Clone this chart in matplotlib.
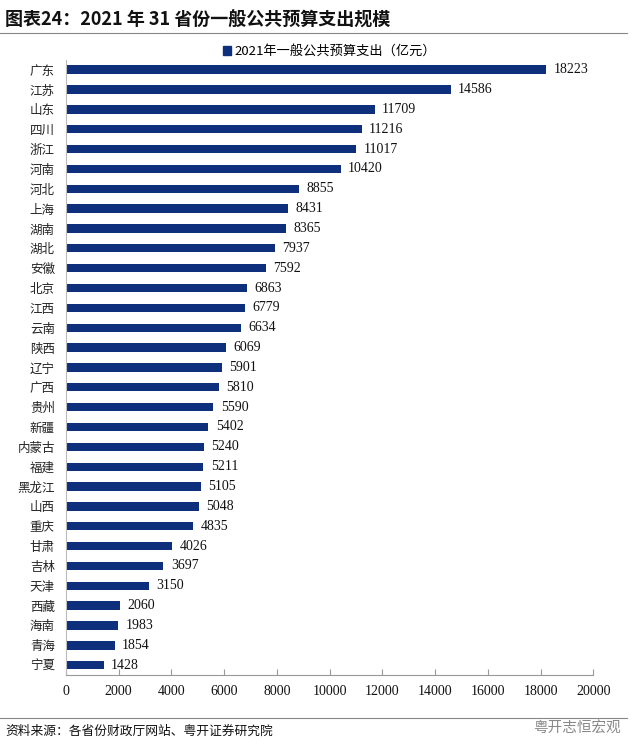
import matplotlib
matplotlib.use("Agg")
import matplotlib.pyplot as plt
from matplotlib.lines import Line2D
from matplotlib.patches import Patch

provinces = ["广东", "江苏", "山东", "四川", "浙江", "河南", "河北", "上海", "湖南", "湖北",
             "安徽", "北京", "江西", "云南", "陕西", "辽宁", "广西", "贵州", "新疆", "内蒙古",
             "福建", "黑龙江", "山西", "重庆", "甘肃", "吉林", "天津", "西藏", "海南", "青海", "宁夏"]
values = [18223, 14586, 11709, 11216, 11017, 10420, 8855, 8431, 8365, 7937,
          7592, 6863, 6779, 6634, 6069, 5901, 5810, 5590, 5402, 5240,
          5211, 5105, 5048, 4835, 4026, 3697, 3150, 2060, 1983, 1854, 1428]
xticks = [0, 2000, 4000, 6000, 8000, 10000, 12000, 14000, 16000, 18000, 20000]
series_name = "2021年一般公共预算支出（亿元）"
title = "图表24：2021 年 31 省份一般公共预算支出规模"
source = "资料来源：各省份财政厅网站、粤开证券研究院"

serif = ["Liberation Serif", "Noto Sans CJK SC"]
cjk = ["Noto Sans CJK SC", "DejaVu Sans"]
bar_color = "#0d2f7c"

fig = plt.figure(figsize=(6.4, 7.56), dpi=100)
ax = fig.add_axes([0.103, 0.107, 0.824, 0.814])

n = len(provinces)
ypos = list(range(n))[::-1]
ax.barh(ypos, values, height=0.42, color=bar_color)
for y, v in zip(ypos, values):
    ax.text(v + 280, y, str(v), va="center", ha="left", fontsize=10, family=serif, color="#111111")

ax.set_xlim(0, 20000)
ax.set_ylim(-0.5, n - 0.5)
ax.set_yticks(ypos)
ax.set_yticklabels(provinces, family=cjk, fontsize=9, color="#222222")
ax.set_xticks(xticks)
ax.set_xticklabels([str(t) for t in xticks], family=serif, fontsize=10, color="#111111")
ax.tick_params(axis="x", direction="in", length=4, color="#999999", pad=7)
ax.tick_params(axis="y", length=0, pad=8)
for s in ["top", "right"]:
    ax.spines[s].set_visible(False)
ax.spines["left"].set_color("#bbbbbb")
ax.spines["bottom"].set_color("#999999")

leg = ax.legend(handles=[Patch(color=bar_color, label=series_name)], loc="center",
                bbox_to_anchor=(0.5, 1.013), frameon=False, handlelength=0.6, handleheight=0.6,
                handletextpad=0.3, prop={"family": cjk, "size": 9.5}, borderaxespad=0, borderpad=0)

fig.text(0.008, 0.974, title, family=cjk, fontsize=13, fontweight="bold", va="center", ha="left", color="#111111")
fig.add_artist(Line2D([0.0, 0.98], [0.956, 0.956], color="#888888", lw=0.8))
fig.add_artist(Line2D([0.0, 0.98], [0.050, 0.050], color="#888888", lw=0.8))
fig.text(0.008, 0.033, source, family=cjk, fontsize=9.2, style="italic", va="center", ha="left", color="#111111")
fig.text(0.97, 0.037, "粤开志恒宏观", family=cjk, fontsize=10.5, va="center", ha="right", color="#888888")

fig.savefig("out.png", dpi=100)
